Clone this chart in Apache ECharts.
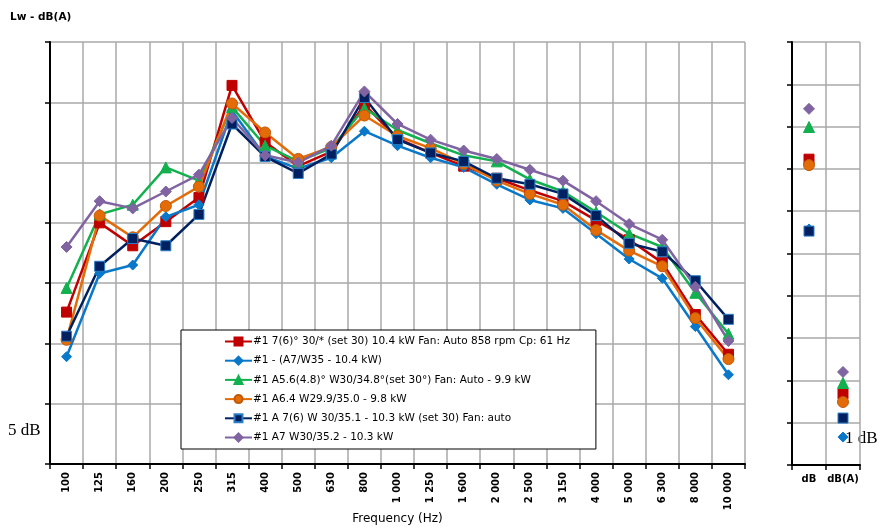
<!DOCTYPE html>
<html>
<head>
<meta charset="utf-8">
<script src="https://cdn.jsdelivr.net/npm/echarts@6/dist/echarts.min.js"></script>
<style>
  html, body { margin: 0; padding: 0; background: #fff; }
  #chart { width: 877px; height: 527px; }
</style>
</head>
<body>
<div id="chart"></div>
<script>
// frequency bands (Hz)
const categories = ['100', '125', '160', '200', '250', '315', '400', '500', '630', '800',
    '1 000', '1 250', '1 600', '2 000', '2 500', '3 150', '4 000', '5 000', '6 300', '8 000', '10 000'];

// relative level, 5 dB per grid division
const redValues = [12.6, 20.0, 18.1, 20.1, 22.1, 31.4, 26.7, 24.7, 25.9, 29.8, 27.0, 25.8, 24.7, 23.7, 22.7, 21.8, 20.2, 18.6, 16.7, 12.4, 9.1];
const blueValues = [8.9, 15.8, 16.5, 20.5, 21.5, 29.3, 25.5, 24.5, 25.4, 27.6, 26.4, 25.4, 24.6, 23.2, 21.9, 21.2, 19.1, 17.0, 15.4, 11.4, 7.4];
const greenValues = [14.6, 20.7, 21.5, 24.6, 23.5, 29.6, 26.4, 25.1, 26.2, 29.5, 27.7, 26.6, 25.6, 25.1, 23.6, 22.6, 20.9, 19.1, 18.0, 14.2, 10.8];
const orangeValues = [10.3, 20.6, 18.8, 21.4, 23.0, 29.9, 27.5, 25.3, 26.3, 28.9, 27.2, 26.2, 24.9, 23.5, 22.4, 21.5, 19.4, 17.7, 16.4, 12.1, 8.7];
const navyValues = [10.6, 16.4, 18.7, 18.1, 20.7, 28.2, 25.5, 24.1, 25.7, 30.4, 26.9, 25.8, 25.1, 23.7, 23.2, 22.4, 20.6, 18.3, 17.6, 15.2, 12.0];
const purpleValues = [18.0, 21.8, 21.2, 22.6, 24.0, 28.7, 25.6, 25.0, 26.4, 30.9, 28.2, 26.9, 26.0, 25.3, 24.4, 23.5, 21.8, 19.9, 18.6, 14.7, 10.2];

// totals panel, 1 dB per grid division: [dB, dB(A)]
const totalCategories = ['dB', 'dB(A)'];
const redTotals = [7.23, 1.68];
const blueTotals = [5.58, 0.66];
const greenTotals = [7.99, 1.94];
const orangeTotals = [7.09, 1.49];
const navyTotals = [5.53, 1.11];
const purpleTotals = [8.42, 2.20];

const seriesDefs = [
    { name: '#1 7(6)° 30/* (set 30) 10.4 kW Fan: Auto 858 rpm Cp: 61 Hz', data: redValues, totals: redTotals,
      color: '#c00000', border: '#c00000', symbol: 'rect', size: 10 },
    { name: '#1 - (A7/W35 - 10.4 kW)', data: blueValues, totals: blueTotals,
      color: '#0a78c8', border: '#0a78c8', symbol: 'diamond', size: 10 },
    { name: '#1 A5.6(4.8)° W30/34.8°(set 30°) Fan: Auto - 9.9 kW', data: greenValues, totals: greenTotals,
      color: '#12b04e', border: '#12b04e', symbol: 'triangle', size: 11 },
    { name: '#1 A6.4 W29.9/35.0 - 9.8 kW', data: orangeValues, totals: orangeTotals,
      color: '#e36c09', border: '#c05a08', symbol: 'circle', size: 11 },
    { name: '#1 A 7(6) W 30/35.1 - 10.3 kW (set 30) Fan: auto', data: navyValues, totals: navyTotals,
      color: '#002060', border: '#2a7fc8', symbol: 'rect', size: 10 },
    { name: '#1 A7 W30/35.2 - 10.3 kW', data: purpleValues, totals: purpleTotals,
      color: '#8064a2', border: '#8064a2', symbol: 'diamond', size: 11 }
];

const chart = echarts.init(document.getElementById('chart'));

const gridLine = { show: true, lineStyle: { color: '#a8a8a8', width: 1.5 } };
const blackAxis = { show: true, onZero: false, lineStyle: { color: '#000', width: 2 } };

const lineSeries = seriesDefs.map(s => ({
    name: s.name,
    type: 'line',
    xAxisIndex: 0,
    yAxisIndex: 0,
    data: s.data,
    symbol: s.symbol,
    symbolSize: s.size,
    lineStyle: { color: s.color, width: 2.5 },
    itemStyle: { color: s.color, borderColor: s.border, borderWidth: 1 },
    emphasis: { disabled: true },
    animation: false,
    z: 3
}));

const totalSeries = seriesDefs.map((s, i) => ({
    name: 'total' + i,
    type: 'scatter',
    xAxisIndex: 1,
    yAxisIndex: 1,
    data: s.totals,
    symbol: s.symbol,
    symbolSize: s.size,
    itemStyle: { color: s.color, borderColor: s.border, borderWidth: 1, opacity: 1 },
    animation: false
}));

const option = {
    backgroundColor: '#fff',
    title: {
        text: 'Lw - dB(A)',
        left: 5,
        top: 7,
        textStyle: { fontFamily: 'DejaVu Sans', fontSize: 10.5, fontWeight: 'bold', color: '#000' }
    },
    legend: {
        orient: 'vertical',
        left: 181,
        top: 330,
        data: seriesDefs.map(s => s.name),
        backgroundColor: '#fff',
        borderColor: '#000',
        borderWidth: 1,
        padding: [6, 26, 6, 43],
        itemGap: 8.2,
        itemWidth: 27,
        itemHeight: 10,
        selectedMode: false,
        textStyle: { fontFamily: 'DejaVu Sans', fontSize: 10.5, color: '#000', padding: [0, 0, 0, -4] }
    },
    grid: [
        { left: 50, right: 132, top: 42, bottom: 63, outerBoundsMode: 'none' },
        { left: 792, right: 17, top: 42, bottom: 62, outerBoundsMode: 'none' }
    ],
    xAxis: [
        {
            type: 'category',
            gridIndex: 0,
            data: categories,
            boundaryGap: true,
            name: 'Frequency (Hz)',
            nameLocation: 'middle',
            nameGap: 49,
            nameMoveOverlap: false,
            nameTextStyle: { fontFamily: 'DejaVu Sans', fontSize: 12, color: '#000' },
            axisLine: blackAxis,
            axisTick: { show: true, length: 5, lineStyle: { color: '#000', width: 1.5 } },
            axisLabel: {
                rotate: 90, interval: 0, margin: 8,
                fontFamily: 'DejaVu Sans', fontSize: 10, fontWeight: 'bold', color: '#000'
            },
            splitLine: gridLine
        },
        {
            type: 'category',
            gridIndex: 1,
            data: totalCategories,
            boundaryGap: true,
            axisLine: blackAxis,
            axisTick: { show: true, length: 5, lineStyle: { color: '#000', width: 1.5 } },
            axisLabel: { interval: 0, margin: 9, fontFamily: 'DejaVu Sans', fontSize: 10, fontWeight: 'bold', color: '#000' },
            splitLine: gridLine
        }
    ],
    yAxis: [
        {
            type: 'value',
            gridIndex: 0,
            min: 0,
            max: 35,
            interval: 5,
            axisLine: blackAxis,
            axisTick: { show: true, length: 5, lineStyle: { color: '#000', width: 1.5 } },
            axisLabel: { show: false },
            splitLine: gridLine
        },
        {
            type: 'value',
            gridIndex: 1,
            min: 0,
            max: 10,
            interval: 1,
            axisLine: blackAxis,
            axisTick: { show: true, length: 5, lineStyle: { color: '#000', width: 1.5 } },
            axisLabel: { show: false },
            splitLine: gridLine
        }
    ],
    graphic: [
        // 自带的刻度说明
        { type: 'text', left: 8, top: 422, style: { text: '5 dB', fontFamily: 'Liberation Serif', fontSize: 17, fill: '#000' } },
        { type: 'text', left: 845, top: 430, style: { text: '1 dB', fontFamily: 'Liberation Serif', fontSize: 17, fill: '#000' } }
    ],
    series: lineSeries.concat(totalSeries)
};

chart.setOption(option);
</script>
</body>
</html>
